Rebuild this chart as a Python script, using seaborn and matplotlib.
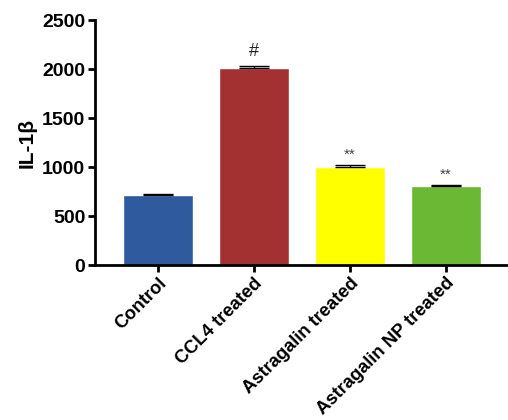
import numpy as np
import pandas as pd
import matplotlib
matplotlib.use('Agg')
import matplotlib.pyplot as plt
import seaborn as sns

groups = ['Control', 'CCL4 treated', 'Astragalin treated', 'Astragalin NP treated']
il1b_mean = [710, 2010, 1005, 805]
il1b_sem = [12, 20, 12, 8]
marks = ['', '#', '**', '**']
bar_colors = ['#2F5A9E', '#A33131', '#FFFF00', '#6AB833']

sns.set_theme(style='ticks')
plt.rcParams['font.family'] = ['Liberation Sans', 'DejaVu Sans']
plt.rcParams['font.weight'] = 'bold'
plt.rcParams['text.color'] = 'black'
plt.rcParams['xtick.color'] = 'black'
plt.rcParams['ytick.color'] = 'black'
plt.rcParams['axes.labelcolor'] = 'black'

df = pd.DataFrame({'group': groups, 'value': il1b_mean})

fig = plt.figure(figsize=(5.08, 4.20), dpi=100)
ax = fig.add_axes([0.187, 0.369, 0.813, 0.583])

sns.barplot(data=df, x='group', y='value', hue='group', palette=bar_colors,
            legend=False, errorbar=None, width=0.73, saturation=1, ax=ax)

# upper-only error bars
xpos = np.arange(len(groups))
ax.errorbar(xpos, il1b_mean, yerr=[np.zeros(len(groups)), il1b_sem],
            fmt='none', ecolor='black', elinewidth=1, capsize=11, capthick=1)

for x, v, e, m in zip(xpos, il1b_mean, il1b_sem, marks):
    if m == '#':
        ax.text(x, v + e + 60, m, ha='center', va='bottom', fontsize=13,
                fontweight='normal', color='#222222')
    elif m:
        ax.text(x, v + e + 40, m, ha='center', va='bottom', fontsize=11,
                fontweight='normal', color='#444444')

ax.set_ylim(0, 2500)
ax.set_yticks([0, 500, 1000, 1500, 2000, 2500])
ax.set_xlim(-0.66, 3.65)
ax.set_xlabel('')
ax.set_ylabel('IL-1β', fontsize=15, fontweight='bold', labelpad=4)

sns.despine(ax=ax)
for s in ['left', 'bottom']:
    ax.spines[s].set_linewidth(2)
    ax.spines[s].set_color('black')
ax.tick_params(axis='both', width=2, length=5, color='black', labelsize=14, pad=2)
ax.set_xticks(xpos)
ax.set_xticklabels(groups, rotation=45, ha='right', rotation_mode='anchor',
                   fontsize=13.2, fontweight='bold')
for t in ax.get_yticklabels():
    t.set_fontweight('bold')

fig.savefig('out.png', dpi=100)
